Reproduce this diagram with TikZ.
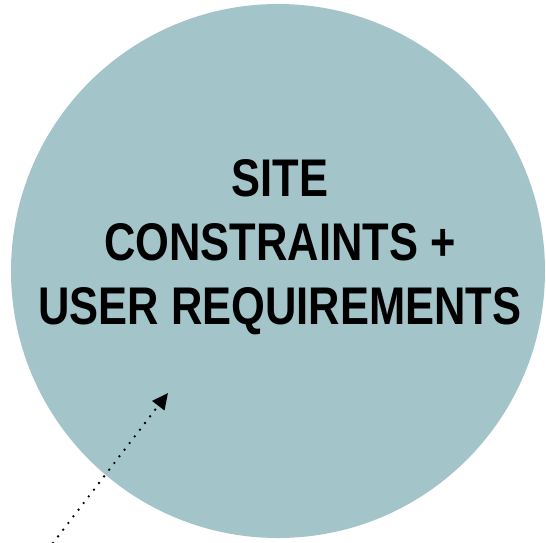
\documentclass[tikz,border=0pt]{standalone}
\usepackage{fontspec}
\setmainfont{Liberation Sans}
\usepackage{tikz}
\usetikzlibrary{arrows.meta}
\usepackage{xcolor}
\definecolor{sitefill}{HTML}{A3C4C9}

\begin{document}
\begin{tikzpicture}[x=1pt,y=-1pt]
  \useasboundingbox (0,0) rectangle (546,542);

  % Disc behind the label
  \node[circle,fill=sitefill,inner sep=0pt,minimum size=534pt] (site) at (278,271) {};

  % Label
  \node[align=center,font=\bfseries\fontsize{53}{64}\selectfont\addfontfeature{FakeStretch=0.82}] (lbl) at (280,247)
    {SITE\\CONSTRAINTS +\\USER REQUIREMENTS};

  % Dotted pointer coming in from the corner
  \coordinate (tail) at (53,543);
  \coordinate (head) at (168,393);
  \draw[line width=2.6pt,line cap=round,dash pattern=on 0pt off 8.4pt,
        -{Triangle[length=16pt,width=15pt]}] (tail) -- (head);
\end{tikzpicture}
\end{document}
